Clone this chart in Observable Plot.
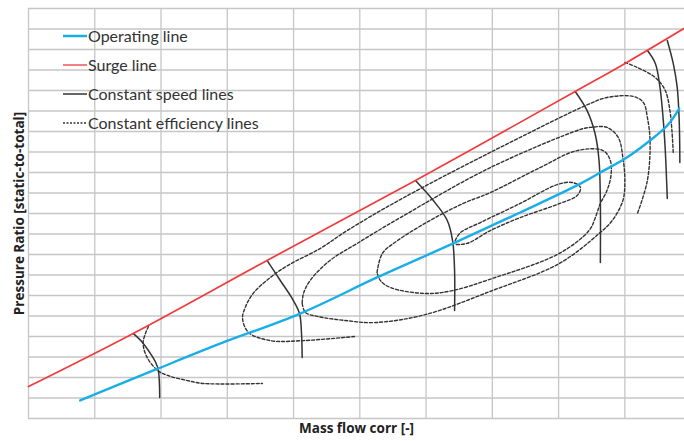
<!DOCTYPE html>
<html>
<head>
<meta charset="utf-8">
<script src="https://cdn.jsdelivr.net/npm/d3@7"></script>
<script src="https://cdn.jsdelivr.net/npm/@observablehq/plot@0.6"></script>
<style>
  body { margin: 0; background: #fff; }
  #wrap { position: relative; width: 684px; height: 441px; }
  .legend { position: absolute; left: 63px; top: 21px; font-family: Lato, "Open Sans", sans-serif; font-size: 16px; color: #333; }
  .row { height: 29px; display: flex; align-items: center; white-space: nowrap; }
  .row svg { margin-right: 1px; }
</style>
</head>
<body>
<div id="wrap"></div>
<script>
// ---- grid (mass flow / pressure ratio grid units) ----
const gridX = [0, 1, 2, 3, 4, 5, 6, 7, 8, 9];
const gridY = [0, 1, 2, 3, 4, 5, 6, 7, 8, 9, 10, 11, 12, 13, 14, 15, 16, 17, 18, 19, 20];

// ---- operating line ----
const operatingX = [0.78, 1.96, 2.90, 4.10, 5.26, 6.41, 7.42, 8.33, 8.63, 9.03, 9.38, 9.64, 9.82];
const operatingY = [0.88, 2.44, 3.66, 5.12, 6.88, 8.54, 10.05, 11.46, 12.00, 12.73, 13.56, 14.29, 15.12];

// ---- surge line ----
const surgeX = [0.00, 1.58, 3.60, 5.84, 8.25, 9.03, 9.89];
const surgeY = [1.56, 4.15, 7.71, 11.61, 15.95, 17.37, 19.02];

// ---- constant speed lines ----
const speed1X = [1.58, 1.72, 1.83, 1.92, 1.96, 1.98];
const speed1Y = [4.15, 3.71, 3.22, 2.73, 2.34, 1.02];
const speed2X = [3.60, 3.80, 3.98, 4.09, 4.12, 4.13];
const speed2Y = [7.71, 6.73, 5.85, 5.12, 4.15, 2.98];
const speed3X = [5.84, 6.11, 6.32, 6.40, 6.43, 6.43];
const speed3Y = [11.61, 10.63, 9.66, 8.68, 7.22, 5.27];
const speed4X = [8.25, 8.43, 8.55, 8.61, 8.63, 8.63];
const speed4Y = [15.95, 15.02, 13.90, 12.59, 10.63, 7.61];
const speed5X = [9.34, 9.46, 9.53, 9.58, 9.61, 9.64];
const speed5Y = [17.95, 17.32, 16.15, 14.54, 13.07, 10.73];
const speed6X = [9.64, 9.73, 9.79, 9.82, 9.83];
const speed6Y = [18.44, 17.32, 16.15, 14.54, 12.49];

// ---- constant efficiency lines ----
const effAX = [1.81, 1.73, 1.79, 1.95, 2.10, 2.40, 2.64, 3.53];
const effAY = [4.49, 3.71, 2.98, 2.34, 2.10, 1.85, 1.71, 1.71];
const effBX = [4.92, 4.15, 3.65, 3.32, 3.23, 3.27, 3.39, 3.65, 3.91, 4.40, 4.81, 5.61, 6.97, 8.48, 8.73, 9.13, 9.28, 9.34, 9.38, 9.34, 9.19];
const effBY = [4.00, 3.80, 3.80, 4.20, 4.88, 5.41, 6.10, 6.88, 7.46, 8.29, 9.17, 10.68, 12.98, 15.37, 15.66, 15.71, 15.41, 14.68, 13.56, 11.61, 10.00];
const effCX = [4.13, 4.18, 4.36, 4.78, 5.23, 5.99, 7.00, 8.01, 8.61, 8.81, 8.97, 9.00, 8.97, 8.90, 8.73, 8.48, 8.33, 6.97, 5.61, 4.96, 4.55, 4.25, 4.15, 4.13];
const effCY = [5.61, 5.17, 4.98, 4.78, 4.68, 5.07, 6.24, 7.56, 9.02, 9.66, 10.63, 11.61, 12.73, 13.71, 14.20, 14.20, 14.10, 12.24, 9.80, 8.54, 7.71, 6.73, 6.10, 5.61];
const effDX = [5.26, 5.34, 5.57, 6.06, 6.56, 6.97, 7.72, 8.28, 8.67, 8.78, 8.79, 8.73, 8.63, 8.55, 8.46, 8.01, 7.00, 6.40, 5.99, 5.46, 5.31, 5.26];
const effDY = [7.12, 8.05, 8.68, 9.66, 10.49, 11.02, 12.24, 13.07, 13.07, 12.59, 11.85, 11.12, 10.49, 9.76, 9.17, 8.05, 6.83, 6.24, 6.10, 6.39, 6.73, 7.12];
const effEX = [6.44, 6.52, 6.82, 7.42, 7.98, 8.21, 8.33, 8.28, 8.02, 7.42, 6.97, 6.62, 6.44];
const effEY = [8.68, 9.07, 9.56, 10.49, 11.41, 11.51, 11.27, 10.88, 10.49, 9.80, 9.17, 8.54, 8.49];
const effFX = [9.00, 9.19, 9.46, 9.61, 9.68, 9.71, 9.73];
const effFY = [17.37, 17.12, 16.63, 16.00, 15.02, 14.05, 12.98];

// ---- texts ----
const xTitle = "Mass flow corr [-]";
const yTitle = "Pressure Ratio [static-to-total]";
const legendLabels = ["Operating line", "Surge line", "Constant speed lines", "Constant efficiency lines"];

// build tables
const toRows = (xs, ys, id) => xs.map((x, i) => ({x, y: ys[i], id}));
const speedRows = [
  ...toRows(speed1X, speed1Y, "s1"), ...toRows(speed2X, speed2Y, "s2"),
  ...toRows(speed3X, speed3Y, "s3"), ...toRows(speed4X, speed4Y, "s4"),
  ...toRows(speed5X, speed5Y, "s5"), ...toRows(speed6X, speed6Y, "s6")
];
const effRows = [
  ...toRows(effAX, effAY, "A"), ...toRows(effBX, effBY, "B"),
  ...toRows(effCX, effCY, "C"), ...toRows(effDX, effDY, "D"),
  ...toRows(effEX, effEY, "E"), ...toRows(effFX, effFY, "F")
];
const operatingRows = toRows(operatingX, operatingY, "op");
const surgeRows = toRows(surgeX, surgeY, "surge");

const gridColor = "#c6c6c6";
const dark = "#333333";
const blue = "#1aaee8";
const red = "#f03c3c";
const titleFont = "'Open Sans', sans-serif";

const chart = Plot.plot({
  width: 684,
  height: 441,
  marginLeft: 28,
  marginRight: 0,
  marginTop: 8,
  marginBottom: 23,
  style: {background: "#fff", overflow: "visible"},
  x: {domain: [0, 9.9], axis: null},
  y: {domain: [0, 20], axis: null},
  marks: [
    Plot.ruleX(gridX, {stroke: gridColor, strokeWidth: 1.3}),
    Plot.ruleY(gridY, {stroke: gridColor, strokeWidth: 1.3}),
    Plot.line(effRows, {x: "x", y: "y", z: "id", stroke: dark, strokeWidth: 1.4, strokeDasharray: "3,2", curve: "catmull-rom"}),
    Plot.line(speedRows, {x: "x", y: "y", z: "id", stroke: dark, strokeWidth: 1.5, curve: "catmull-rom"}),
    Plot.line(operatingRows, {x: "x", y: "y", stroke: blue, strokeWidth: 2.4, curve: "catmull-rom"}),
    Plot.line(surgeRows, {x: "x", y: "y", stroke: red, strokeWidth: 1.7, curve: "catmull-rom"}),
    Plot.text([xTitle], {text: d => d, frameAnchor: "bottom", dy: 14, textAnchor: "middle", fontSize: 13.5, fontWeight: "bold", fontFamily: titleFont, fill: "#222"}),
    Plot.text([yTitle], {text: d => d, frameAnchor: "left", dx: -9, textAnchor: "middle", rotate: -90, fontSize: 13.5, fontWeight: "bold", fontFamily: titleFont, fill: "#222"})
  ]
});

const wrap = document.getElementById("wrap");
wrap.appendChild(chart);

const swatches = [
  `<svg width="24" height="6"><line x1="0" x2="24" y1="3" y2="3" stroke="${blue}" stroke-width="2.5"/></svg>`,
  `<svg width="24" height="6"><line x1="0" x2="24" y1="3" y2="3" stroke="${red}" stroke-width="1.3"/></svg>`,
  `<svg width="24" height="6"><line x1="0" x2="24" y1="3" y2="3" stroke="${dark}" stroke-width="1.5"/></svg>`,
  `<svg width="24" height="6"><line x1="0" x2="24" y1="3" y2="3" stroke="${dark}" stroke-width="1.3" stroke-dasharray="2,1.5"/></svg>`
];
const legend = document.createElement("div");
legend.className = "legend";
legend.innerHTML = legendLabels.map((l, i) => `<div class="row">${swatches[i]}<span>${l}</span></div>`).join("");
wrap.appendChild(legend);
</script>
</body>
</html>
